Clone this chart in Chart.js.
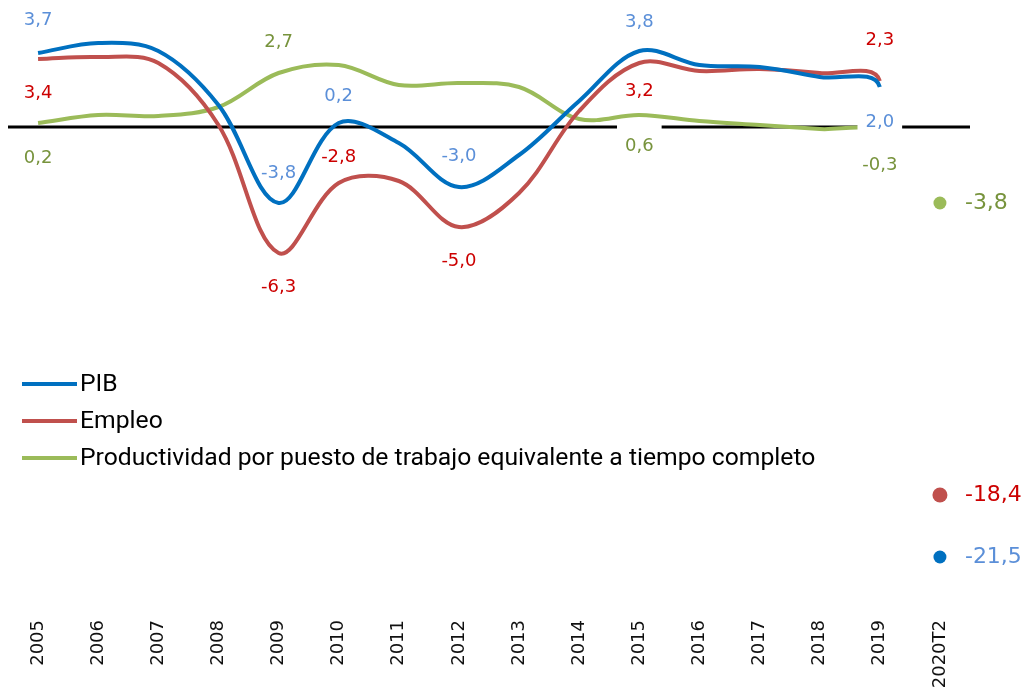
<!DOCTYPE html>
<html>
<head>
<meta charset="utf-8">
<script src="https://cdn.jsdelivr.net/npm/chart.js@4/dist/chart.umd.min.js"></script>
<style>
  html, body { margin: 0; padding: 0; background: #fff; }
  #wrap { width: 1025px; height: 693px; position: relative; }
</style>
</head>
<body>
<div id="wrap"><canvas id="chart"></canvas></div>
<script>
// Datos (tasas de variación, %)
const years = ['2005', '2006', '2007', '2008', '2009', '2010', '2011', '2012', '2013', '2014',
               '2015', '2016', '2017', '2018', '2019', '2020T2'];
const pib = [3.7, 4.2, 3.8, 1.1, -3.8, 0.2, -0.8, -3.0, -1.4, 1.3, 3.8, 3.1, 3.0, 2.5, 2.0, -21.5];
const empleo = [3.4, 3.5, 3.2, 0.1, -6.3, -2.8, -2.7, -5.0, -3.3, 0.8, 3.2, 2.8, 2.9, 2.7, 2.3, -18.4];
const productividad = [0.2, 0.6, 0.55, 1.0, 2.7, 3.1, 2.1, 2.2, 2.0, 0.4, 0.6, 0.3, 0.1, -0.1, -0.3, -3.8];

const seriesNames = ['PIB', 'Empleo', 'Productividad por puesto de trabajo equivalente a tiempo completo'];

// puntos con etiqueta (índices)
const pibLabeled = [0, 4, 5, 7, 10, 14, 15];
const empleoLabeled = [0, 4, 5, 7, 10, 14, 15];
const prodLabeled = [0, 4, 10, 14, 15];

const lineColors = ['#0070C0', '#C0504D', '#9BBB59'];
const labelColors = ['#5B8FD8', '#CC0000', '#77933C'];

// posición de cada etiqueta: 'a' encima, 'b' debajo, 'r' a la derecha (punto 2020T2)
const labelPlace = [
    { 0: ['a', 33], 4: ['a', 30], 5: ['a', 27], 7: ['a', 31], 10: ['a', 29], 14: ['b', 35, true], 15: ['r'] },
    { 0: ['b', 34], 4: ['b', 34], 5: ['a', 26], 7: ['b', 34], 10: ['b', 28], 14: ['a', 41], 15: ['r'] },
    { 0: ['b', 35], 4: ['a', 31], 10: ['b', 31, true], 14: ['b', 32], 15: ['r'] }
];

const last = years.length - 1;
const fmt = v => v.toFixed(1).replace('.', ',');

function makeDataset(label, data, i) {
    return {
        label: label,
        data: data,
        borderColor: lineColors[i],
        backgroundColor: lineColors[i],
        borderWidth: 4,
        tension: 0.35,
        fill: false,
        pointRadius: ctx => ctx.dataIndex === last ? (i === 1 ? 7.5 : 6.5) : 0,
        pointHoverRadius: 0,
        pointBorderWidth: 0,
        segment: {
            borderColor: ctx => ctx.p1DataIndex === last ? 'rgba(0,0,0,0)' : lineColors[i]
        }
    };
}

const zeroLine = {
    id: 'zeroLine',
    beforeDatasetsDraw(chart) {
        const { ctx, chartArea, scales } = chart;
        const y = scales.y.getPixelForValue(0);
        ctx.save();
        ctx.strokeStyle = '#000';
        ctx.lineWidth = 3;
        ctx.beginPath();
        ctx.moveTo(chartArea.left, y);
        ctx.lineTo(chartArea.right, y);
        ctx.stroke();
        ctx.restore();
    }
};

const valueLabels = {
    id: 'valueLabels',
    afterDatasetsDraw(chart) {
        const { ctx } = chart;
        const labeled = [pibLabeled, empleoLabeled, prodLabeled];
        ctx.save();
        ctx.textBaseline = 'middle';
        chart.data.datasets.forEach((ds, i) => {
            const meta = chart.getDatasetMeta(i);
            labeled[i].forEach(idx => {
                const pt = meta.data[idx];
                const place = labelPlace[i][idx];
                const txt = fmt(ds.data[idx]);
                if (place[0] === 'r') {
                    ctx.font = '22px "DejaVu Sans"';
                    ctx.textAlign = 'left';
                    ctx.fillStyle = labelColors[i];
                    ctx.fillText(txt, pt.x + 25, pt.y);
                    return;
                }
                ctx.font = '18px "DejaVu Sans"';
                ctx.textAlign = 'center';
                const y = place[0] === 'a' ? pt.y - place[1] : pt.y + place[1];
                if (place[2]) {
                    const w = ctx.measureText(txt).width;
                    ctx.fillStyle = '#fff';
                    ctx.fillRect(pt.x - w / 2 - 8, y - 22, w + 16, 36);
                }
                ctx.fillStyle = labelColors[i];
                ctx.fillText(txt, pt.x, y);
            });
        });
        ctx.restore();
    }
};

const lineLegend = {
    id: 'lineLegend',
    afterDraw(chart) {
        const { ctx } = chart;
        ctx.save();
        ctx.font = '24.7px Roboto';
        ctx.textBaseline = 'middle';
        ctx.textAlign = 'left';
        seriesNames.forEach((name, i) => {
            const y = 384 + i * 37;
            ctx.strokeStyle = lineColors[i];
            ctx.lineWidth = 4;
            ctx.beginPath();
            ctx.moveTo(22, y);
            ctx.lineTo(77, y);
            ctx.stroke();
            ctx.fillStyle = '#000';
            ctx.fillText(name, 80, y + 1);
        });
        ctx.restore();
    }
};

new Chart(document.getElementById('chart'), {
    type: 'line',
    data: {
        labels: years,
        datasets: [
            makeDataset(seriesNames[0], pib, 0),
            makeDataset(seriesNames[1], empleo, 1),
            makeDataset(seriesNames[2], productividad, 2)
        ]
    },
    options: {
        responsive: true,
        maintainAspectRatio: false,
        animation: false,
        layout: { autoPadding: false, padding: { left: 8, right: 55, top: 0, bottom: 0 } },
        plugins: {
            legend: { display: false },
            tooltip: { enabled: false }
        },
        scales: {
            x: {
                offset: true,
                grid: { display: false, drawTicks: false },
                border: { display: false },
                ticks: {
                    color: '#111',
                    font: { family: 'DejaVu Sans', size: 18 },
                    minRotation: 90,
                    maxRotation: 90,
                    padding: 4,
                    autoSkip: false
                },
                afterFit(scale) { scale.height = 77; }
            },
            y: {
                display: false,
                min: -24.45,
                max: 6.35
            }
        }
    },
    plugins: [zeroLine, valueLabels, lineLegend]
});
</script>
</body>
</html>
